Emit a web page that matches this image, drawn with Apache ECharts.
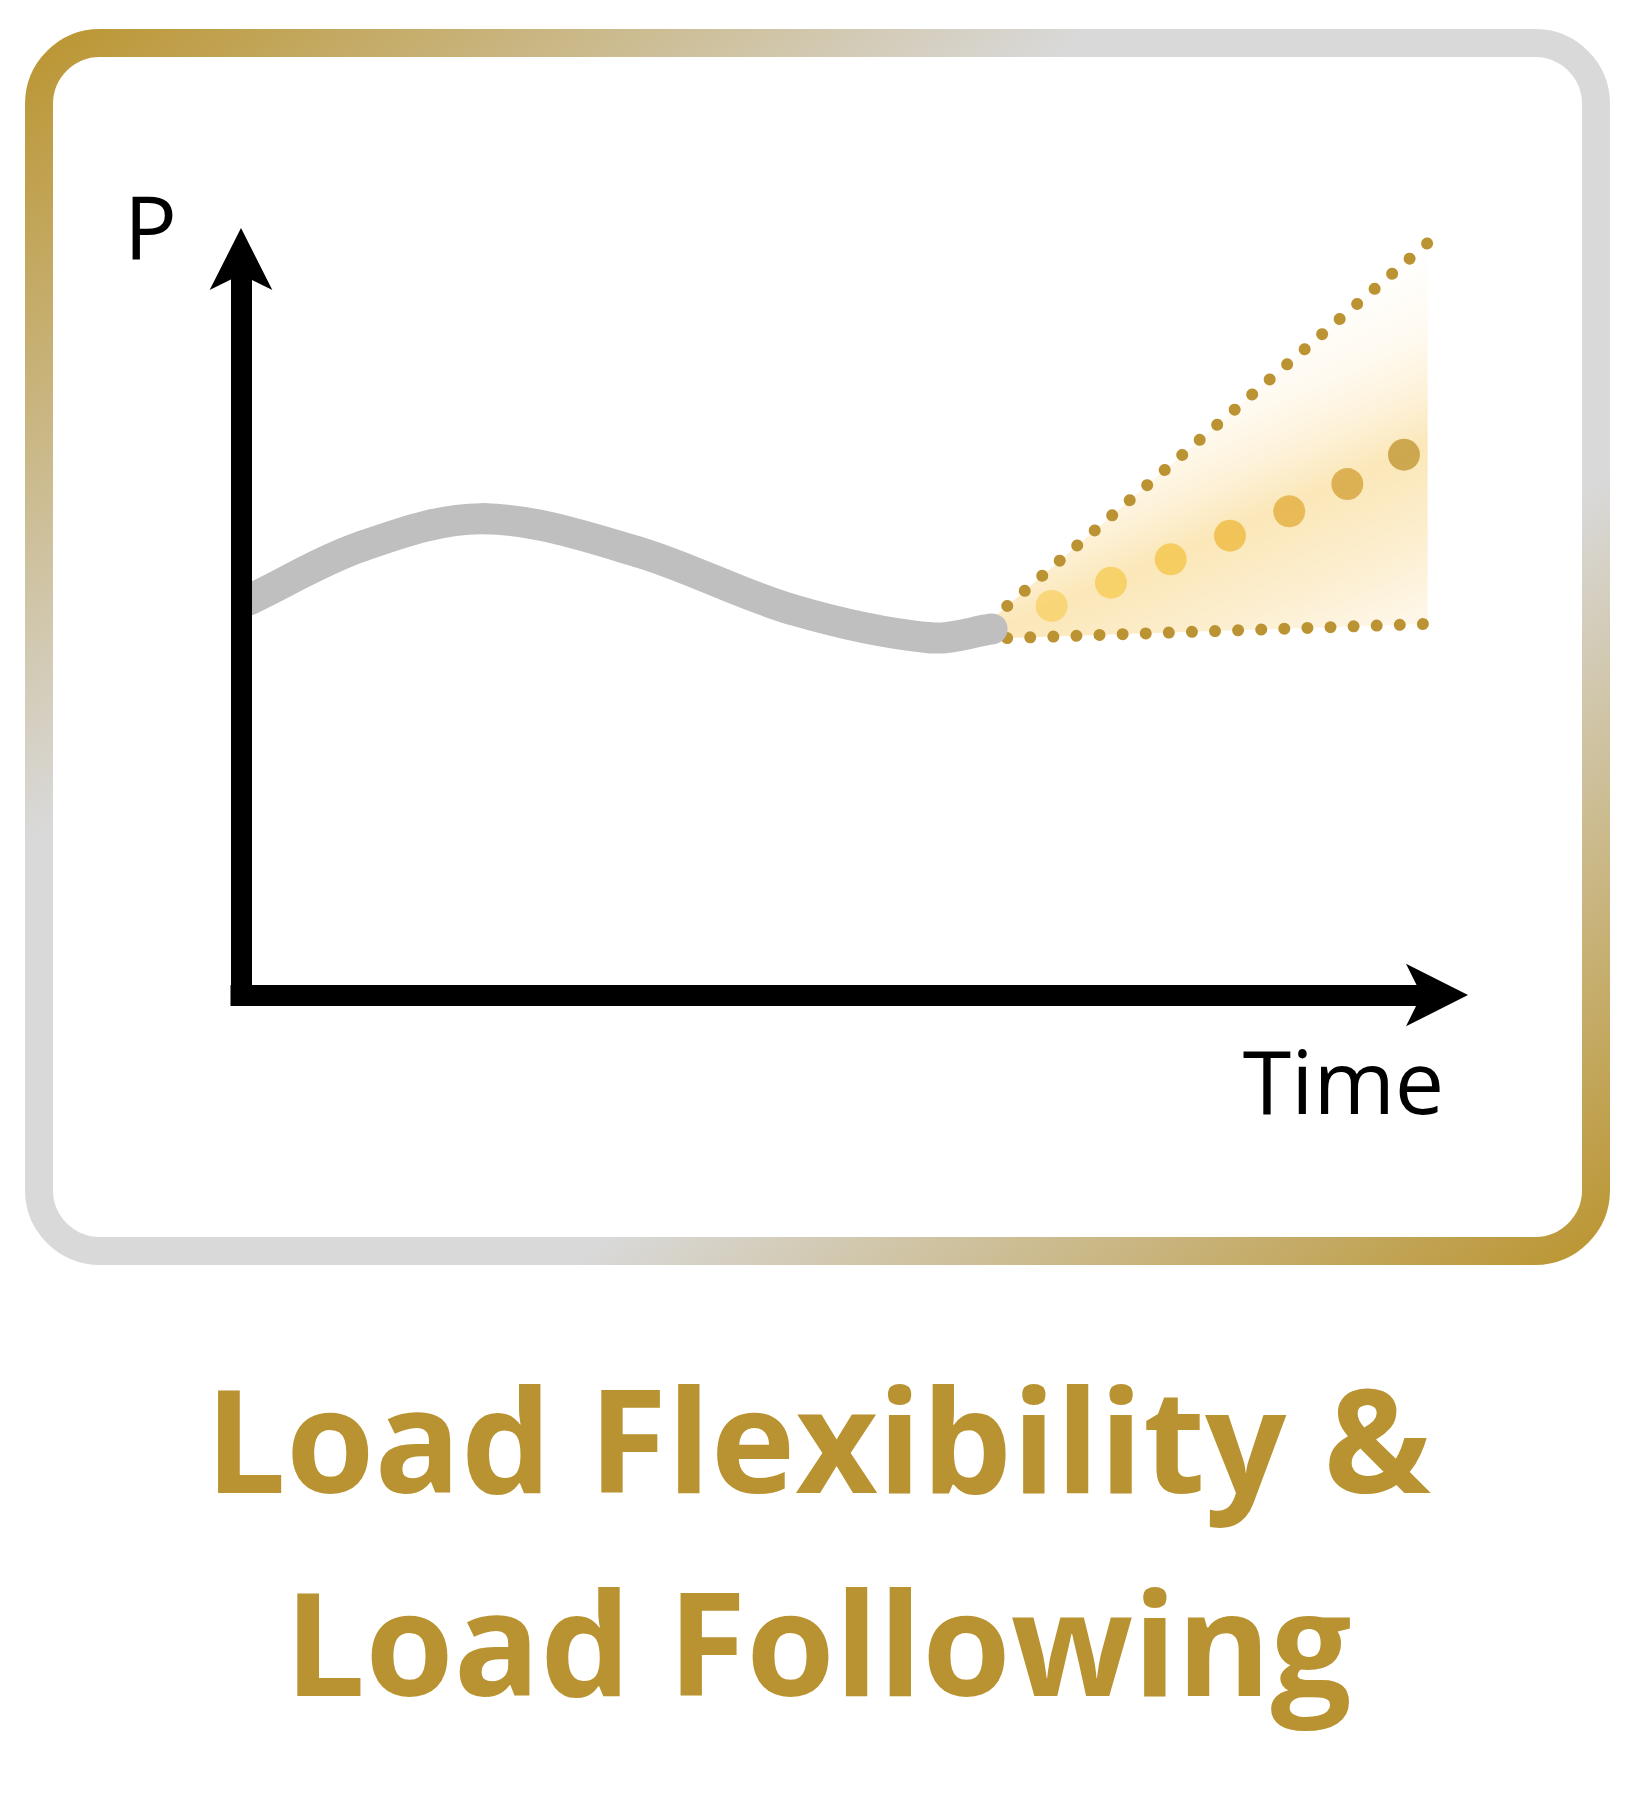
<!DOCTYPE html>
<html>
<head>
<meta charset="utf-8">
<script src="https://cdn.jsdelivr.net/npm/echarts@6/dist/echarts.min.js"></script>
<style>
  html, body { margin: 0; padding: 0; background: #ffffff; }
  #chart { width: 1636px; height: 1798px; }
</style>
</head>
<body>
<div id="chart"></div>
<script>
// ---- data (axis units: 0..100 on both axes) ----
const curveX = [0.6, 10.2, 20.4, 33.2, 46.0, 57.6, 62.85];
const curveY = [53.7, 61.1, 64.8, 60.3, 52.5, 48.6, 49.8];

const upperX = [63.1, 99.3];
const upperY = [51.5, 102.3];
const lowerX = [63.1, 99.3];
const lowerY = [48.5, 50.5];

const dotX = [67.84, 72.80, 77.80, 82.76, 87.72, 92.58, 97.32];
const dotY = [52.93, 56.10, 59.28, 62.49, 65.80, 69.52, 73.51];

const titleText = 'Load Flexibility &\nLoad Following';
const xName = 'Time';
const yName = 'P';

// ---- styles ----
const dotColors = ['#F7D168', '#F6CC55', '#F5C54A', '#EFBA40', '#E3AF3E', '#D4A23A', '#C29734'];
const gold = '#B99331';

const chart = echarts.init(document.getElementById('chart'), null, { renderer: 'svg', width: 1636, height: 1798 });

function toPairs(xs, ys) { return xs.map((x, i) => [x, ys[i]]); }

function renderFan(params, api) {
  const pts = [];
  for (let i = 0; i < upperX.length; i++) pts.push(api.coord([upperX[i], upperY[i]]));
  for (let i = lowerX.length - 1; i >= 0; i--) pts.push(api.coord([lowerX[i], lowerY[i]]));
  const a = api.coord([dotX[0], dotY[0]]);
  const b = api.coord([dotX[dotX.length - 1], dotY[dotY.length - 1]]);
  let dx = b[0] - a[0], dy = b[1] - a[1];
  const len = Math.hypot(dx, dy); dx /= len; dy /= len;
  const nx = -dy, ny = dx;
  const S = api.coord([upperX[upperX.length - 1], upperY[upperY.length - 1]]);
  const E = api.coord([lowerX[lowerX.length - 1], lowerY[lowerY.length - 1]]);
  const L = (E[0] - S[0]) * nx + (E[1] - S[1]) * ny;
  const tp = ((a[0] - S[0]) * nx + (a[1] - S[1]) * ny) / L;
  return {
    type: 'polygon',
    shape: { points: pts },
    style: {
      fill: {
        type: 'linear', global: true,
        x: S[0], y: S[1], x2: S[0] + nx * L, y2: S[1] + ny * L,
        colorStops: [
          { offset: 0, color: '#FFFFFF' },
          { offset: tp * 0.45, color: '#FFFAF0' },
          { offset: tp * 0.75, color: '#FDF1D7' },
          { offset: tp, color: '#FBE7B8' },
          { offset: tp + (1 - tp) * 0.5, color: '#FCEECF' },
          { offset: 1, color: '#FEF8EC' }
        ]
      },
      stroke: 'none'
    }
  };
}

// smooth curve through the data points (tangent-balanced cubic Bezier segments)
function renderCurve(params, api) {
  const p = curveX.map((x, i) => api.coord([x, curveY[i]]));
  const n = p.length;
  const dirs = p.map((pt, i) => {
    const a = p[Math.max(i - 1, 0)], b = p[Math.min(i + 1, n - 1)];
    const vx = b[0] - a[0], vy = b[1] - a[1];
    const l = Math.hypot(vx, vy) || 1;
    return [vx / l, vy / l];
  });
  const children = [];
  for (let i = 0; i < n - 1; i++) {
    const p1 = p[i], p2 = p[i + 1];
    const d = Math.hypot(p2[0] - p1[0], p2[1] - p1[1]) / 3;
    children.push({
      type: 'bezierCurve',
      shape: {
        x1: p1[0], y1: p1[1], x2: p2[0], y2: p2[1],
        cpx1: p1[0] + dirs[i][0] * d, cpy1: p1[1] + dirs[i][1] * d,
        cpx2: p2[0] - dirs[i + 1][0] * d, cpy2: p2[1] - dirs[i + 1][1] * d
      },
      style: { stroke: '#BFBFBF', lineWidth: 31, lineCap: 'round', fill: 'none' }
    });
  }
  return { type: 'group', children };
}

const axisLineCommon = {
  show: true,
  symbol: ['none', 'arrow'],
  symbolSize: [47, 62],
  symbolOffset: [0, 32],
  lineStyle: { color: '#000000', width: 21, cap: 'square' }
};

const option = {
  animation: false,
  backgroundColor: '#ffffff',
  title: {
    text: titleText,
    left: 'center',
    top: 1336,
    padding: 0,
    textStyle: {
      fontFamily: 'Open Sans',
      fontWeight: 'bold',
      fontSize: 143,
      lineHeight: 203,
      color: gold
    }
  },
  graphic: [{
    type: 'rect',
    z: -10,
    shape: { x: 39, y: 43, width: 1557, height: 1208, r: 61 },
    style: {
      fill: 'none',
      lineWidth: 28,
      stroke: {
        type: 'linear', global: true,
        x: 39, y: 43, x2: 1196, y2: 1557,
        colorStops: [
          { offset: 0, color: '#BB9633' },
          { offset: 0.33, color: '#D9D9D9' },
          { offset: 0.68, color: '#D9D9D9' },
          { offset: 1, color: '#BB9633' }
        ]
      }
    }
  }],
  grid: { left: 241, right: 200, top: 260, bottom: 803, containLabel: false },
  xAxis: {
    type: 'value', min: 0, max: 100, z: 10,
    name: xName,
    nameLocation: 'end',
    nameGap: 0,
    nameTextStyle: {
      fontFamily: 'Open Sans', fontSize: 88, color: '#000000',
      align: 'center', verticalAlign: 'top',
      lineHeight: 170,
      padding: [0, 185, 0, 0]
    },
    axisLine: axisLineCommon,
    axisTick: { show: false }, axisLabel: { show: false }, splitLine: { show: false }
  },
  yAxis: {
    type: 'value', min: 0, max: 100, z: 10,
    name: yName,
    nameLocation: 'end',
    nameGap: 34,
    nameTextStyle: {
      fontFamily: 'Open Sans', fontSize: 88, color: '#000000',
      align: 'center', verticalAlign: 'middle',
      padding: [0, 181, 0, 0]
    },
    axisLine: axisLineCommon,
    axisTick: { show: false }, axisLabel: { show: false }, splitLine: { show: false }
  },
  series: [
    {
      type: 'custom', z: 1, clip: false, silent: true,
      renderItem: renderFan,
      data: [0]
    },
    {
      type: 'line', z: 2, clip: false, silent: true, symbol: 'none',
      data: toPairs(upperX, upperY),
      lineStyle: { color: '#BB9333', width: 12, type: [0.01, 23.1], cap: 'round', dashOffset: 7 }
    },
    {
      type: 'line', z: 2, clip: false, silent: true, symbol: 'none',
      data: toPairs(lowerX, lowerY),
      lineStyle: { color: '#BB9333', width: 12, type: [0.01, 23.1], cap: 'round', dashOffset: 11 }
    },
    {
      type: 'scatter', z: 3, clip: false, silent: true,
      symbol: 'circle', symbolSize: 32,
      data: dotX.map((x, i) => ({ value: [x, dotY[i]], itemStyle: { color: dotColors[i] } }))
    },
    {
      type: 'custom', z: 4, clip: false, silent: true,
      renderItem: renderCurve,
      data: [0]
    }
  ]
};

chart.setOption(option);
</script>
</body>
</html>
